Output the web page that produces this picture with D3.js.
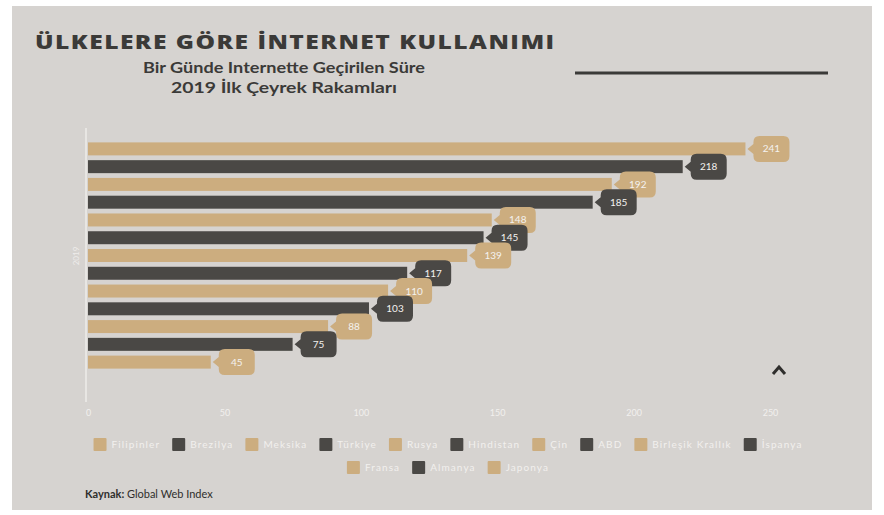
<!DOCTYPE html>
<html><head><meta charset="utf-8">
<script src="https://cdn.jsdelivr.net/npm/d3@7"></script>
<style>html,body{margin:0;padding:0;background:#fff;}svg{display:block;}</style>
</head><body><svg id="c" width="884" height="515"></svg>
<script>
const countries = ["Filipinler","Brezilya","Meksika","Türkiye","Rusya","Hindistan","Çin","ABD","Birleşik Krallık","İspanya","Fransa","Almanya","Japonya"];
const values = [241,218,192,185,148,145,139,117,110,103,88,75,45];
const xTicks = [0,50,100,150,200,250];
const palette = ["#ccad7f","#4a4845"];
const title = "ÜLKELERE GÖRE İNTERNET KULLANIMI";
const subtitle = ["Bir Günde Internette Geçirilen Süre","2019 İlk Çeyrek Rakamları"];
const axisLabel = "2019";

const svg = d3.select("#c");
const colorOf = i => palette[i % 2];
svg.append("rect").attr("x",12).attr("y",6).attr("width",860).attr("height",504).attr("fill","#d6d3d0");

// title: horizontally stretched to the reference width
const tt = svg.append("text").text(title)
  .attr("font-family","Open Sans").attr("font-weight",800).attr("font-size",20)
  .attr("letter-spacing",1.2).attr("fill","#3b3a38");
const tw0 = tt.node().getComputedTextLength();
tt.attr("transform",`translate(35,49) scale(${521/tw0},1)`);

subtitle.forEach((s,i)=>{
  svg.append("text").attr("x",284).attr("y",73+i*20).attr("text-anchor","middle").text(s)
    .attr("font-family","Lato").attr("font-weight",700).attr("font-size",16).attr("fill","#3b3a38")
    .attr("textLength",i===0?282:226).attr("lengthAdjust","spacingAndGlyphs");
});
svg.append("line").attr("x1",575).attr("x2",828).attr("y1",73).attr("y2",73)
  .attr("stroke","#3b3a38").attr("stroke-width",3);

const x = d3.scaleLinear().domain([0,250]).range([88,770]);
const y = d3.scaleBand().domain(countries).range([140,371]).paddingInner(0.27).paddingOuter(0.135);

// axis line
svg.append("line").attr("x1",86).attr("x2",86).attr("y1",128).attr("y2",402)
  .attr("stroke","#e8e6e3").attr("stroke-width",2);
svg.append("text").attr("transform","translate(79,256) rotate(-90)").attr("text-anchor","middle")
  .text(axisLabel).attr("font-family","Lato").attr("font-size",8).attr("fill","#eeeceb");

// x axis
const xAxis = d3.axisBottom(x).tickValues(xTicks).tickSize(0).tickPadding(0);
const gx = svg.append("g").attr("transform","translate(0,410)").call(xAxis);
gx.select(".domain").remove();
gx.selectAll("text").attr("font-family","Lato").attr("font-size",9).attr("fill","#f2f0ee");

// bars
svg.selectAll("rect.bar").data(countries).join("rect").attr("class","bar")
  .attr("x",x(0)).attr("y",d=>y(d)).attr("width",(d,i)=>x(values[i])-x(0))
  .attr("height",y.bandwidth()).attr("fill",(d,i)=>colorOf(i));

// labels
const bw=36, bh=26, pw=6;
countries.forEach((c,i)=>{
  const tip = x(values[i])+2, cy = y(c)+y.bandwidth()/2;
  const g = svg.append("g").attr("transform",`translate(${tip},${cy})`);
  const r=6, L=pw, R=pw+bw, T=-bh/2, B=bh/2;
  const p = `M0,0 L${L},${-5} L${L},${T+r} Q${L},${T} ${L+r},${T} L${R-r},${T} Q${R},${T} ${R},${T+r} L${R},${B-r} Q${R},${B} ${R-r},${B} L${L+r},${B} Q${L},${B} ${L},${B-r} L${L},5 Z`;
  g.append("path").attr("d",p).attr("fill",colorOf(i));
  g.append("text").attr("x",L+bw/2).attr("y",3.5).attr("text-anchor","middle").text(values[i])
    .attr("font-family","Lato").attr("font-size",10).attr("fill","#f4f2f0");
});

// caret
svg.append("path").attr("d","M773,374 L779,367 L785,374").attr("fill","none")
  .attr("stroke","#2f2e2c").attr("stroke-width",3);

// legend
const lg = svg.append("g");
const gap = 12;
const items = countries.map((c,i)=>{
  const g = lg.append("g");
  g.append("rect").attr("width",13).attr("height",13).attr("y",-10).attr("rx",1).attr("fill",colorOf(i));
  const t = g.append("text").attr("x",18).text(c).attr("font-family","Lato").attr("font-size",10)
    .attr("letter-spacing",1.1).attr("fill","#f2f0ee");
  return {g, w: 18 + t.node().getComputedTextLength() + gap};
});
const maxW = 722, rows=[[]]; let cur=0;
items.forEach(it=>{ if(cur+it.w>maxW && rows[rows.length-1].length){rows.push([]);cur=0;} rows[rows.length-1].push(it); cur+=it.w; });
rows.forEach((row,ri)=>{
  const tw = d3.sum(row,d=>d.w)-gap;
  let xx = 448 - tw/2;
  row.forEach(it=>{ it.g.attr("transform",`translate(${xx},${448+ri*23})`); xx+=it.w; });
});

const src = svg.append("text").attr("x",85).attr("y",498).attr("font-family","Lato").attr("font-size",11).attr("fill","#2f2e2c");
src.append("tspan").attr("font-weight",700).text("Kaynak: ");
src.append("tspan").text("Global Web Index");
</script></body></html>
